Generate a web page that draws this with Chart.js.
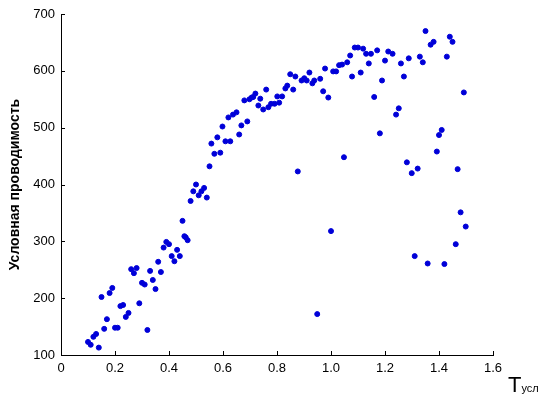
<!DOCTYPE html>
<html>
<head>
<meta charset="utf-8">
<script src="https://cdn.jsdelivr.net/npm/chart.js@4/dist/chart.umd.min.js"></script>
<style>
  html, body { margin: 0; padding: 0; background: #fff; }
  #wrap { width: 550px; height: 401px; position: relative; }
</style>
</head>
<body>
<div id="wrap"><canvas id="scatterChart"></canvas></div>
<script>
// values
const tUsl = [
    0.10, 0.11, 0.12, 0.13, 0.14, 0.15, 0.16, 0.17, 0.18, 0.19,
    0.20, 0.21, 0.22, 0.23, 0.24, 0.25, 0.26, 0.27, 0.28, 0.29,
    0.30, 0.31, 0.32, 0.33, 0.34, 0.35, 0.36, 0.37, 0.38, 0.39,
    0.40, 0.41, 0.42, 0.43, 0.44, 0.45, 0.457, 0.462, 0.469, 0.48,
    0.49, 0.50, 0.51, 0.52, 0.53, 0.54, 0.55, 0.557, 0.568, 0.579,
    0.59, 0.598, 0.609, 0.627, 0.62, 0.637, 0.65, 0.66, 0.668, 0.679,
    0.69, 0.698, 0.706, 0.712, 0.72, 0.731, 0.738, 0.749, 0.76, 0.768,
    0.778, 0.791, 0.808, 0.801, 0.819, 0.831, 0.838, 0.849, 0.86, 0.868,
    0.877, 0.891, 0.901, 0.91, 0.92, 0.931, 0.938, 0.96, 0.971, 0.978,
    0.99, 1.0, 1.008, 1.019, 1.03, 1.041, 1.048, 1.06, 1.071, 1.078,
    1.088, 1.10, 1.119, 1.11, 1.13, 1.148, 1.14, 1.16, 1.171, 1.181,
    1.189, 1.20, 1.212, 1.228, 1.241, 1.251, 1.259, 1.27, 1.281, 1.288,
    1.299, 1.31, 1.321, 1.329, 1.34, 1.35, 1.358, 1.369, 1.38, 1.392,
    1.40, 1.41, 1.42, 1.429, 1.44, 1.45, 1.462, 1.469, 1.48, 1.492,
    1.499, 0.949
];
const conductivity = [
    123, 118, 132, 137, 113, 202, 146, 163, 209, 218,
    148, 148, 186, 188, 167, 174, 251, 244, 253, 191,
    227, 224, 144, 248, 232, 216, 264, 246, 289, 299,
    295, 274, 265, 285, 274, 336, 309, 307, 302, 371,
    388, 400, 381, 388, 394, 377, 432, 472, 454, 483,
    456, 502, 476, 476, 518, 523, 527, 488, 504, 548,
    511, 550, 553, 554, 560, 539, 551, 532, 567, 536,
    542, 542, 544, 555, 555, 569, 574, 594, 567, 590,
    423, 583, 587, 583, 597, 578, 583, 586, 564, 604,
    553, 318, 599, 599, 610, 611, 448, 615, 627, 590,
    641, 641, 639, 597, 630, 630, 613, 554, 636, 490,
    583, 618, 634, 630, 523, 534, 613, 590, 439, 622,
    420, 274, 428, 625, 615, 670, 261, 646, 651, 458,
    487, 496, 260, 625, 660, 651, 295, 427, 351, 562,
    326, 172
];
const xTicks = [0, 0.2, 0.4, 0.6, 0.8, 1, 1.2, 1.4, 1.6];
const yTicks = [100, 200, 300, 400, 500, 600, 700];
const yTitle = 'Условная проводимость';
const xTitleMain = 'T';
const xTitleSub = 'усл';

const points = tUsl.map((t, i) => ({ x: t, y: conductivity[i] }));
const tickFont = { family: '"Liberation Sans", Arial, sans-serif', size: 13 };

// inward tick marks and the axis titles, drawn with the chart's own scales
const axisDecor = {
    id: 'axisDecor',
    afterDraw(chart) {
        const { ctx, chartArea: a, scales: { x, y } } = chart;
        ctx.save();
        ctx.strokeStyle = '#000';
        ctx.lineWidth = 1;
        ctx.beginPath();
        x.ticks.forEach(t => {
            const px = Math.round(x.getPixelForValue(t.value)) + 0.5;
            ctx.moveTo(px, a.bottom);
            ctx.lineTo(px, a.bottom - 4);
        });
        y.ticks.forEach(t => {
            const py = Math.round(y.getPixelForValue(t.value)) + 0.5;
            ctx.moveTo(a.left, py);
            ctx.lineTo(a.left + 4, py);
        });
        ctx.stroke();

        ctx.fillStyle = '#000';
        // y title
        ctx.save();
        ctx.translate(15, (a.top + a.bottom) / 2);
        ctx.rotate(-Math.PI / 2);
        ctx.font = 'bold 14px "Liberation Sans", Arial, sans-serif';
        ctx.textAlign = 'center';
        ctx.textBaseline = 'middle';
        ctx.fillText(yTitle, 0, 0);
        ctx.restore();

        // x title at the lower right
        ctx.textAlign = 'left';
        ctx.textBaseline = 'alphabetic';
        ctx.font = '22px "Liberation Sans", Arial, sans-serif';
        ctx.fillText(xTitleMain, a.right + 15, 392);
        const w = ctx.measureText(xTitleMain).width;
        ctx.font = '11px "Liberation Sans", Arial, sans-serif';
        ctx.fillText(xTitleSub, a.right + 15 + w, 392);
        ctx.restore();
    }
};

new Chart(document.getElementById('scatterChart'), {
    type: 'scatter',
    data: {
        datasets: [{
            data: points,
            backgroundColor: '#0000d8',
            borderColor: '#0000d8',
            pointRadius: 2.5,
            pointHoverRadius: 2.5,
            borderWidth: 1
        }]
    },
    options: {
        responsive: true,
        maintainAspectRatio: false,
        animation: false,
        events: [],
        layout: { padding: { top: 14, right: 57, left: 0, bottom: 0 } },
        plugins: {
            legend: { display: false },
            tooltip: { enabled: false }
        },
        scales: {
            x: {
                type: 'linear',
                min: 0,
                max: 1.6,
                afterBuildTicks: s => { s.ticks = xTicks.map(v => ({ value: v })); },
                afterFit: s => { s.height = 46; },
                grid: { display: false, drawTicks: false },
                border: { display: true, color: '#000', width: 1 },
                ticks: { color: '#000', font: tickFont, padding: 6, maxRotation: 0 }
            },
            y: {
                type: 'linear',
                min: 100,
                max: 700,
                afterBuildTicks: s => { s.ticks = yTicks.map(v => ({ value: v })); },
                afterFit: s => { s.width = 61; },
                grid: { display: false, drawTicks: false },
                border: { display: true, color: '#000', width: 1 },
                ticks: { color: '#000', font: tickFont, padding: 6 }
            }
        }
    },
    plugins: [axisDecor]
});
</script>
</body>
</html>
